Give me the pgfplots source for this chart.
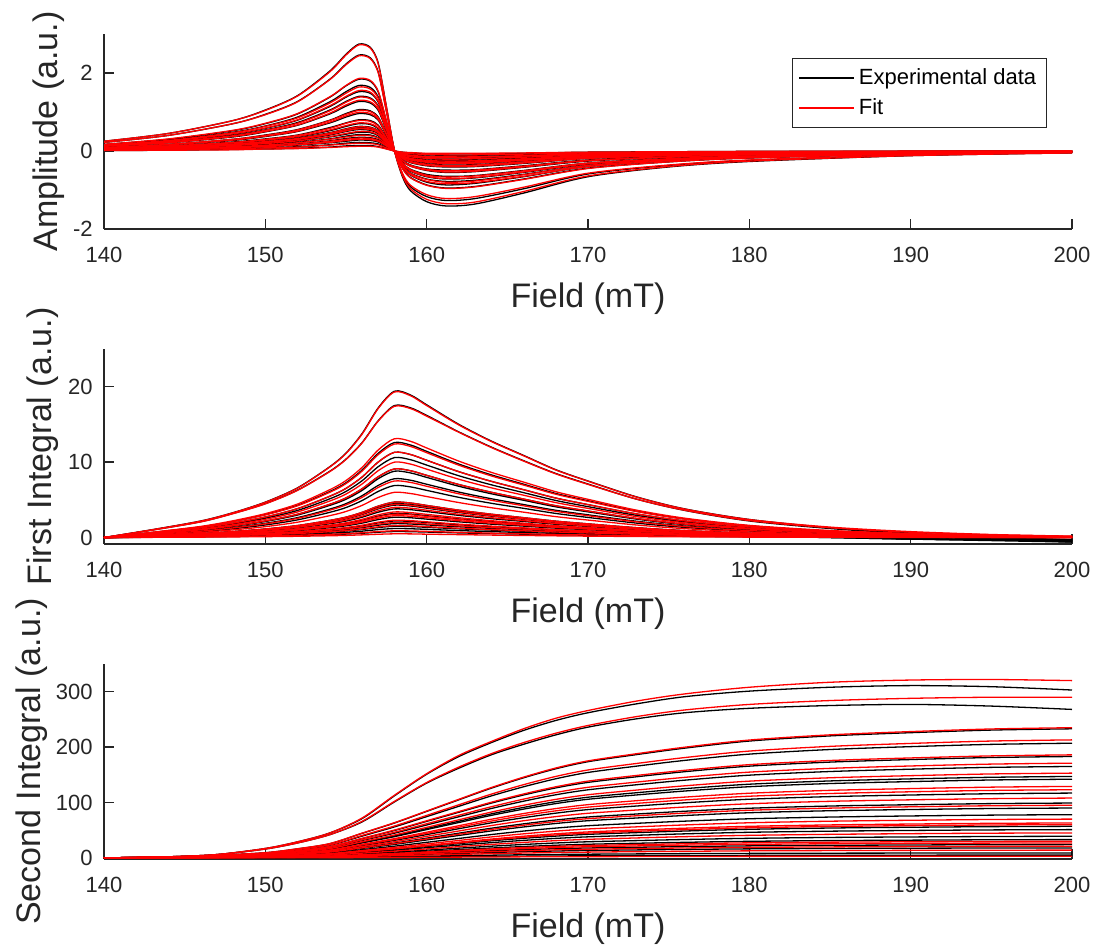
\documentclass[border=0pt]{standalone}
\usepackage{fontspec}
\setmainfont{Liberation Sans}
\usepackage{pgfplots}
\usepackage{pgfplotstable}
\pgfplotsset{compat=1.18}
\definecolor{axgray}{rgb}{0.15,0.15,0.15}

% ---------- Panel 1: derivative spectra (one row per curve) ----------
\pgfplotstableread{
name 140 144 148 150 152 154 155 155.8 156.5 157 157.5 158 158.5 159 160 161.2 163 166 170 175 180 190 200
b1 0.25 0.45 0.78 1.05 1.42 2.05 2.48 2.74 2.66 2.25 1.15 0.02 -0.66 -1.02 -1.30 -1.41 -1.36 -1.08 -0.66 -0.41 -0.27 -0.12 -0.05
r1 0.25 0.45 0.78 1.04 1.41 2.03 2.46 2.72 2.64 2.23 1.14 0.02 -0.63 -0.97 -1.24 -1.35 -1.31 -1.04 -0.64 -0.40 -0.26 -0.12 -0.05
b2 0.22 0.40 0.70 0.94 1.27 1.84 2.23 2.46 2.39 2.02 1.03 0.02 -0.59 -0.92 -1.17 -1.27 -1.22 -0.97 -0.59 -0.37 -0.24 -0.11 -0.04
r2 0.22 0.40 0.70 0.93 1.26 1.83 2.21 2.44 2.37 2.00 1.02 0.02 -0.57 -0.88 -1.12 -1.22 -1.17 -0.93 -0.57 -0.36 -0.23 -0.10 -0.04
b3 0.17 0.30 0.52 0.70 0.95 1.38 1.67 1.84 1.79 1.51 0.77 0.01 -0.44 -0.68 -0.87 -0.95 -0.91 -0.72 -0.44 -0.28 -0.18 -0.08 -0.03
r3 0.17 0.31 0.53 0.71 0.96 1.39 1.68 1.86 1.81 1.53 0.78 0.01 -0.45 -0.69 -0.88 -0.96 -0.92 -0.73 -0.45 -0.28 -0.18 -0.08 -0.03
b4 0.15 0.28 0.48 0.64 0.87 1.26 1.52 1.68 1.63 1.38 0.71 0.01 -0.40 -0.62 -0.80 -0.87 -0.83 -0.66 -0.40 -0.25 -0.17 -0.07 -0.03
r4 0.15 0.27 0.47 0.63 0.85 1.23 1.48 1.64 1.59 1.35 0.69 0.01 -0.40 -0.61 -0.78 -0.84 -0.81 -0.65 -0.40 -0.25 -0.16 -0.07 -0.03
b5 0.14 0.25 0.43 0.58 0.79 1.14 1.38 1.52 1.48 1.25 0.64 0.01 -0.37 -0.57 -0.72 -0.78 -0.75 -0.60 -0.37 -0.23 -0.15 -0.07 -0.03
r5 0.14 0.25 0.44 0.59 0.80 1.16 1.40 1.55 1.51 1.27 0.65 0.01 -0.37 -0.58 -0.73 -0.80 -0.77 -0.61 -0.37 -0.23 -0.15 -0.07 -0.03
b6 0.13 0.23 0.40 0.54 0.73 1.05 1.27 1.40 1.36 1.15 0.59 0.01 -0.34 -0.52 -0.66 -0.72 -0.69 -0.55 -0.34 -0.21 -0.14 -0.06 -0.03
r6 0.13 0.23 0.39 0.53 0.71 1.03 1.25 1.38 1.34 1.13 0.58 0.01 -0.33 -0.51 -0.65 -0.71 -0.68 -0.54 -0.33 -0.21 -0.14 -0.06 -0.02
b7 0.12 0.21 0.36 0.49 0.66 0.95 1.15 1.27 1.23 1.04 0.53 0.01 -0.31 -0.47 -0.60 -0.65 -0.63 -0.50 -0.31 -0.19 -0.13 -0.06 -0.02
r7 0.12 0.21 0.37 0.50 0.67 0.97 1.18 1.30 1.26 1.07 0.55 0.01 -0.31 -0.48 -0.62 -0.67 -0.64 -0.51 -0.31 -0.20 -0.13 -0.06 -0.02
b8 0.10 0.17 0.30 0.41 0.55 0.79 0.96 1.06 1.03 0.87 0.45 0.01 -0.26 -0.39 -0.50 -0.55 -0.53 -0.42 -0.26 -0.16 -0.10 -0.05 -0.02
r8 0.09 0.17 0.30 0.40 0.54 0.78 0.94 1.04 1.01 0.85 0.44 0.01 -0.25 -0.39 -0.49 -0.54 -0.52 -0.41 -0.25 -0.16 -0.10 -0.05 -0.02
b9 0.09 0.16 0.27 0.37 0.50 0.72 0.87 0.96 0.93 0.79 0.40 0.01 -0.23 -0.36 -0.46 -0.49 -0.48 -0.38 -0.23 -0.14 -0.10 -0.04 -0.02
r9 0.09 0.16 0.28 0.38 0.51 0.74 0.90 0.99 0.96 0.81 0.42 0.01 -0.24 -0.37 -0.47 -0.51 -0.49 -0.39 -0.24 -0.15 -0.10 -0.04 -0.02
b10 0.07 0.13 0.23 0.31 0.41 0.60 0.72 0.80 0.78 0.66 0.34 0.01 -0.19 -0.30 -0.38 -0.41 -0.40 -0.32 -0.19 -0.12 -0.08 -0.04 -0.01
r10 0.07 0.13 0.22 0.30 0.40 0.58 0.71 0.78 0.76 0.64 0.33 0.01 -0.19 -0.29 -0.37 -0.40 -0.39 -0.31 -0.19 -0.12 -0.08 -0.03 -0.01
b11 0.06 0.10 0.18 0.24 0.33 0.47 0.57 0.63 0.61 0.52 0.26 0.00 -0.15 -0.23 -0.30 -0.32 -0.31 -0.25 -0.15 -0.09 -0.06 -0.03 -0.01
r11 0.06 0.10 0.18 0.24 0.32 0.46 0.56 0.62 0.60 0.51 0.26 0.00 -0.15 -0.23 -0.29 -0.32 -0.31 -0.24 -0.15 -0.09 -0.06 -0.03 -0.01
b12 0.05 0.09 0.16 0.21 0.28 0.41 0.50 0.55 0.53 0.45 0.23 0.00 -0.13 -0.20 -0.26 -0.28 -0.27 -0.22 -0.13 -0.08 -0.05 -0.02 -0.01
r12 0.05 0.09 0.16 0.22 0.30 0.43 0.52 0.57 0.55 0.47 0.24 0.00 -0.14 -0.21 -0.27 -0.29 -0.28 -0.22 -0.14 -0.09 -0.06 -0.03 -0.01
b13 0.04 0.07 0.12 0.16 0.22 0.31 0.38 0.42 0.41 0.34 0.18 0.00 -0.10 -0.16 -0.20 -0.22 -0.21 -0.17 -0.10 -0.06 -0.04 -0.02 -0.01
r13 0.04 0.07 0.11 0.15 0.21 0.30 0.36 0.40 0.39 0.33 0.17 0.00 -0.10 -0.15 -0.19 -0.21 -0.20 -0.16 -0.10 -0.06 -0.04 -0.02 -0.01
b14 0.03 0.05 0.08 0.11 0.15 0.21 0.25 0.28 0.27 0.23 0.12 0.00 -0.07 -0.10 -0.13 -0.14 -0.14 -0.11 -0.07 -0.04 -0.03 -0.01 -0.01
r14 0.03 0.05 0.09 0.11 0.16 0.22 0.27 0.30 0.29 0.25 0.13 0.00 -0.07 -0.11 -0.14 -0.15 -0.15 -0.12 -0.07 -0.05 -0.03 -0.01 -0.01
b15 0.01 0.02 0.04 0.05 0.07 0.10 0.13 0.14 0.14 0.11 0.06 0.00 -0.03 -0.05 -0.07 -0.07 -0.07 -0.06 -0.03 -0.02 -0.01 -0.01 0.00
r15 0.01 0.02 0.03 0.05 0.06 0.09 0.11 0.12 0.12 0.10 0.05 0.00 -0.03 -0.04 -0.06 -0.06 -0.06 -0.05 -0.03 -0.02 -0.01 -0.01 0.00
b16 0.06 0.11 0.20 0.27 0.36 0.52 0.63 0.70 0.68 0.57 0.29 0.00 -0.17 -0.26 -0.33 -0.36 -0.35 -0.28 -0.17 -0.11 -0.07 -0.03 -0.01
r16 0.07 0.12 0.21 0.28 0.37 0.54 0.65 0.72 0.70 0.59 0.30 0.01 -0.17 -0.27 -0.34 -0.37 -0.36 -0.28 -0.17 -0.11 -0.07 -0.03 -0.01
b17 0.04 0.08 0.14 0.18 0.25 0.36 0.43 0.48 0.47 0.39 0.20 0.00 -0.12 -0.18 -0.23 -0.25 -0.24 -0.19 -0.12 -0.07 -0.05 -0.02 -0.01
r17 0.05 0.08 0.14 0.19 0.26 0.37 0.45 0.50 0.49 0.41 0.21 0.00 -0.12 -0.19 -0.24 -0.26 -0.25 -0.20 -0.12 -0.08 -0.05 -0.02 -0.01
b18 0.03 0.06 0.10 0.13 0.18 0.26 0.32 0.35 0.34 0.29 0.15 0.00 -0.08 -0.13 -0.17 -0.18 -0.17 -0.14 -0.08 -0.05 -0.03 -0.02 -0.01
r18 0.03 0.05 0.09 0.13 0.17 0.25 0.30 0.33 0.32 0.27 0.14 0.00 -0.08 -0.12 -0.16 -0.17 -0.16 -0.13 -0.08 -0.05 -0.03 -0.01 -0.01
b19 0.05 0.10 0.17 0.23 0.31 0.45 0.54 0.60 0.58 0.49 0.25 0.00 -0.14 -0.22 -0.28 -0.31 -0.30 -0.24 -0.14 -0.09 -0.06 -0.03 -0.01
r19 0.05 0.10 0.17 0.22 0.30 0.43 0.52 0.58 0.56 0.48 0.24 0.00 -0.14 -0.22 -0.27 -0.30 -0.29 -0.23 -0.14 -0.09 -0.06 -0.03 -0.01
b20 0.02 0.04 0.06 0.08 0.11 0.16 0.20 0.22 0.21 0.18 0.09 0.00 -0.05 -0.08 -0.10 -0.11 -0.11 -0.09 -0.05 -0.03 -0.02 -0.01 0.00
r20 0.02 0.03 0.06 0.08 0.10 0.15 0.18 0.20 0.19 0.16 0.08 0.00 -0.05 -0.07 -0.09 -0.10 -0.10 -0.08 -0.05 -0.03 -0.02 -0.01 0.00
}\rawA
\pgfplotstabletranspose[colnames from=name]\tabA\rawA

% ---------- Panel 2: first integral ----------
\pgfplotstableread{
name 140 143 146 148 150 152 154 155 156 157 158 159 160 162 164 166 168 170 173 176 180 185 190 195 200
b1 0 1.05 2.2 3.3 4.7 6.6 9.4 11.2 13.8 17.2 19.4 18.9 17.6 15.0 12.8 10.9 9.0 7.5 5.4 3.8 2.4 1.3 0.6 0.1 -0.3
r1 0 1.04 2.18 3.28 4.67 6.56 9.36 11.14 13.72 17.12 19.3 18.8 17.5 14.92 12.74 10.85 8.96 7.47 5.37 3.78 2.39 1.39 0.79 0.41 0.19
b2 0 1.0 2.1 3.2 4.5 6.3 8.8 10.4 12.6 15.5 17.5 17.2 16.2 14.0 12.0 10.2 8.5 7.1 5.1 3.6 2.2 1.2 0.5 0.0 -0.4
r2 0 0.99 2.08 3.17 4.47 6.26 8.75 10.35 12.55 15.45 17.4 17.1 16.1 13.95 11.95 10.15 8.45 7.05 5.1 3.62 2.25 1.3 0.72 0.37 0.17
b3 0 0.68 1.42 2.14 3.05 4.28 6.11 7.27 8.96 11.18 12.6 12.27 11.43 9.74 8.32 7.08 5.85 4.88 3.50 2.47 1.56 0.8 0.3 -0.1 -0.5
r3 0 0.71 1.48 2.23 3.17 4.45 6.35 7.56 9.31 11.62 13.1 12.76 11.88 10.13 8.65 7.36 6.08 5.07 3.64 2.57 1.62 0.94 0.54 0.28 0.13
b4 0 0.61 1.28 1.92 2.73 3.84 5.48 6.52 8.03 10.02 11.3 11.01 10.25 8.73 7.46 6.35 5.24 4.37 3.14 2.21 1.40 0.7 0.2 -0.2 -0.6
r4 0 0.67 1.40 2.11 3.00 4.22 6.01 7.15 8.82 11.0 12.4 12.08 11.25 9.59 8.18 6.97 5.75 4.80 3.45 2.43 1.54 0.89 0.51 0.26 0.12
b5 0 0.57 1.20 1.80 2.57 3.60 5.14 6.12 7.54 9.40 10.6 10.32 9.61 8.19 7.0 5.96 4.92 4.10 2.95 2.08 1.31 0.7 0.3 0.0 -0.3
r5 0 0.61 1.28 1.92 2.73 3.84 5.48 6.52 8.03 10.02 11.3 11.01 10.25 8.73 7.46 6.35 5.24 4.37 3.14 2.21 1.40 0.81 0.46 0.24 0.11
b6 0 0.49 1.03 1.55 2.20 3.09 4.41 5.25 6.47 8.07 9.1 8.86 8.25 7.03 6.01 5.11 4.22 3.52 2.53 1.78 1.13 0.6 0.2 -0.1 -0.4
r6 0 0.54 1.13 1.70 2.42 3.40 4.85 5.77 7.11 8.87 10.0 9.74 9.07 7.73 6.60 5.62 4.64 3.87 2.78 1.96 1.24 0.72 0.41 0.21 0.10
b7 0 0.48 0.99 1.50 2.13 2.99 4.27 5.08 6.26 7.81 8.8 8.57 7.98 6.80 5.81 4.95 4.08 3.41 2.45 1.72 1.09 0.63 0.36 0.18 0.09
r7 0 0.49 1.03 1.55 2.20 3.09 4.41 5.25 6.47 8.07 9.1 8.86 8.25 7.03 6.01 5.11 4.22 3.52 2.53 1.78 1.13 0.66 0.37 0.19 0.09
b8 0 0.42 0.88 1.33 1.89 2.65 3.78 4.50 5.55 6.92 7.8 7.60 7.07 6.03 5.15 4.38 3.62 3.02 2.17 1.53 0.97 0.5 0.1 -0.2 -0.5
r8 0 0.41 0.85 1.28 1.82 2.55 3.64 4.33 5.33 6.65 7.5 7.31 6.80 5.80 4.95 4.22 3.48 2.90 2.09 1.47 0.93 0.54 0.31 0.16 0.08
b9 0 0.37 0.78 1.17 1.67 2.35 3.35 3.98 4.91 6.12 6.9 6.72 6.26 5.33 4.55 3.88 3.20 2.67 1.92 1.35 0.86 0.5 0.28 0.14 0.07
r9 0 0.32 0.68 1.02 1.45 2.04 2.91 3.46 4.27 5.32 6.0 5.84 5.44 4.64 3.96 3.37 2.78 2.32 1.67 1.18 0.74 0.43 0.25 0.13 0.06
b10 0 0.25 0.53 0.80 1.14 1.60 2.28 2.71 3.34 4.17 4.7 4.58 4.26 3.63 3.10 2.64 2.18 1.82 1.31 0.92 0.58 0.2 -0.1 -0.3 -0.5
r10 0 0.25 0.53 0.80 1.14 1.60 2.28 2.71 3.34 4.17 4.7 4.58 4.26 3.63 3.10 2.64 2.18 1.82 1.31 0.92 0.58 0.34 0.19 0.10 0.05
b11 0 0.23 0.49 0.73 1.04 1.46 2.09 2.48 3.06 3.81 4.3 4.19 3.90 3.32 2.84 2.42 2.0 1.66 1.20 0.84 0.53 0.31 0.18 0.09 0.04
r11 0 0.22 0.45 0.68 0.97 1.36 1.94 2.31 2.84 3.55 4.0 3.90 3.63 3.09 2.64 2.25 1.86 1.55 1.11 0.78 0.50 0.29 0.16 0.08 0.04
b12 0 0.21 0.43 0.65 0.92 1.29 1.84 2.19 2.70 3.37 3.8 3.70 3.45 2.94 2.51 2.14 1.76 1.47 1.06 0.74 0.47 0.1 -0.2 -0.4 -0.6
r12 0 0.18 0.38 0.58 0.82 1.16 1.65 1.96 2.42 3.02 3.4 3.31 3.08 2.63 2.24 1.91 1.58 1.32 0.95 0.67 0.42 0.24 0.14 0.07 0.03
b13 0 0.15 0.31 0.46 0.65 0.92 1.31 1.56 1.92 2.39 2.7 2.63 2.45 2.09 1.78 1.52 1.25 1.04 0.75 0.53 0.33 0.19 0.11 0.06 0.03
r13 0 0.16 0.33 0.49 0.70 0.99 1.41 1.67 2.06 2.57 2.9 2.82 2.63 2.24 1.91 1.63 1.35 1.12 0.81 0.57 0.36 0.21 0.12 0.06 0.03
b14 0 0.10 0.21 0.31 0.45 0.63 0.90 1.07 1.32 1.64 1.85 1.80 1.68 1.43 1.22 1.04 0.86 0.72 0.51 0.36 0.23 0.0 -0.2 -0.3 -0.4
r14 0 0.12 0.26 0.39 0.56 0.78 1.12 1.33 1.64 2.04 2.3 2.24 2.09 1.78 1.52 1.29 1.07 0.89 0.64 0.45 0.29 0.17 0.09 0.05 0.02
b15 0 0.06 0.14 0.20 0.29 0.41 0.58 0.69 0.85 1.06 1.2 1.17 1.09 0.93 0.79 0.67 0.56 0.46 0.33 0.24 0.15 0.09 0.05 0.03 0.01
r15 0 0.03 0.06 0.09 0.12 0.17 0.24 0.29 0.36 0.44 0.5 0.49 0.45 0.39 0.33 0.28 0.23 0.19 0.14 0.10 0.06 0.04 0.02 0.01 0.01
b16 0 0.17 0.36 0.54 0.77 1.09 1.55 1.85 2.28 2.84 3.2 3.12 2.90 2.47 2.11 1.80 1.48 1.24 0.89 0.63 0.40 0.1 -0.1 -0.3 -0.4
r16 0 0.17 0.35 0.53 0.75 1.05 1.50 1.79 2.20 2.75 3.1 3.02 2.81 2.40 2.05 1.74 1.44 1.20 0.86 0.61 0.38 0.22 0.13 0.07 0.03
b17 0 0.12 0.25 0.37 0.53 0.75 1.07 1.27 1.56 1.95 2.2 2.14 2.0 1.70 1.45 1.24 1.02 0.85 0.61 0.43 0.27 0.16 0.09 0.05 0.02
r17 0 0.11 0.23 0.34 0.48 0.68 0.97 1.15 1.42 1.77 2.0 1.95 1.81 1.55 1.32 1.12 0.93 0.77 0.56 0.39 0.25 0.14 0.08 0.04 0.02
b18 0 0.08 0.17 0.26 0.36 0.51 0.73 0.87 1.07 1.33 1.5 1.46 1.36 1.16 0.99 0.84 0.70 0.58 0.42 0.29 0.19 0.0 -0.2 -0.3 -0.5
r18 0 0.09 0.18 0.27 0.39 0.54 0.78 0.92 1.14 1.42 1.6 1.56 1.45 1.24 1.06 0.90 0.74 0.62 0.44 0.31 0.20 0.12 0.07 0.03 0.02
b19 0 0.24 0.51 0.77 1.09 1.53 2.18 2.60 3.20 3.99 4.5 4.38 4.08 3.48 2.97 2.53 2.09 1.74 1.25 0.88 0.56 0.32 0.18 0.09 0.05
r19 0 0.24 0.50 0.75 1.06 1.50 2.13 2.54 3.13 3.90 4.4 4.29 3.99 3.40 2.90 2.47 2.04 1.70 1.22 0.86 0.55 0.32 0.18 0.09 0.04
b20 0 0.04 0.09 0.14 0.19 0.27 0.39 0.46 0.57 0.71 0.8 0.78 0.73 0.62 0.53 0.45 0.37 0.31 0.22 0.16 0.10 0.06 0.03 0.02 0.01
r20 0 0.05 0.10 0.15 0.22 0.31 0.44 0.52 0.64 0.80 0.9 0.88 0.82 0.70 0.59 0.51 0.42 0.35 0.25 0.18 0.11 0.06 0.04 0.02 0.01
}\rawB
\pgfplotstabletranspose[colnames from=name]\tabB\rawB

% ---------- Panel 3: second integral ----------
\pgfplotstableread{
name 140 144 147 150 152 154 156 158 160 162 164 166 168 170 173 176 180 185 190 195 200
b1 0 2 6 17 29 45 71 112 151 183 208 230 248 262 278 291 301 308 311 309 303
r1 0 2 6 17 29 45 72 113 152 185 210 233 252 266 283 296 308 317 321 322 320
b2 0 2 6 16 27 42 65 101 135 162 186 205 222 236 251 262 270 275 277 274 268
r2 0 2 6 16 27 42 66 102 136 164 188 208 225 239 255 267 277 284 288 290 290
b3 0 1.9 4.7 9.3 16.3 25.6 44.3 62.9 83.9 104.9 125.8 144.5 160.8 173.6 186.4 198.1 210.9 220.2 226.0 230.7 233
r3 0 1.9 4.7 9.4 16.5 25.9 44.7 63.5 84.6 105.8 126.9 145.7 162.2 175.1 188 199.8 212.7 222.1 228 232.7 235
b4 0 1.7 4.1 8.3 14.5 22.8 39.3 55.9 74.5 93.2 111.8 128.3 142.8 154.2 165.6 176 187.3 195.6 200.8 204.9 207
r4 0 1.7 4.3 8.5 14.9 23.4 40.5 57.5 76.7 95.9 115 132.1 147 158.7 170.4 181.1 192.8 201.3 206.6 210.9 213
b5 0 1.5 3.7 7.3 12.8 20.1 34.8 49.4 65.9 82.4 98.8 113.5 126.3 136.3 146.4 155.6 165.6 172.9 177.5 181.2 183
r5 0 1.5 3.7 7.4 13 20.5 35.3 50.2 67 83.7 100.4 115.3 128.3 138.6 148.8 158.1 168.3 175.8 180.4 184.1 186
b6 0 1.3 3.3 6.6 11.6 18.2 31.4 44.6 59.4 74.3 89.1 102.3 113.9 122.9 132 140.3 149.3 155.9 160.1 163.4 165
r6 0 1.4 3.4 6.8 12 18.8 32.5 46.2 61.6 77 92.3 106 118 127.4 136.8 145.4 154.8 161.6 165.9 169.3 171
b7 0 1.2 2.9 5.9 10.3 16.2 27.9 39.7 52.9 66.2 79.4 91.1 101.4 109.5 117.6 125 133 138.9 142.6 145.5 147
r7 0 1.2 3.1 6.1 10.7 16.8 29.1 41.3 55.1 68.9 82.6 94.9 105.6 114 122.4 130.1 138.5 144.6 148.4 151.5 153
b8 0 1.1 2.8 5.7 9.9 15.6 27 38.3 51.1 63.9 76.7 88 98 105.8 113.6 120.7 128.5 134.2 137.7 140.6 142
r8 0 1 2.6 5.2 9 14.2 24.5 34.8 46.4 58.1 69.7 80 89 96.1 103.2 109.7 116.7 121.9 125.1 127.7 129
b9 0 0.9 2.3 4.7 8.2 12.9 22.2 31.6 42.1 52.7 63.2 72.5 80.7 87.2 93.6 99.5 105.9 110.6 113.5 115.8 117
r9 0 1 2.5 4.9 8.6 13.5 23.4 33.2 44.3 55.4 66.4 76.3 84.9 91.6 98.4 104.6 111.3 116.2 119.3 121.8 123
b10 0 0.8 2 4 6.9 10.9 18.8 26.7 35.6 44.6 53.5 61.4 68.3 73.8 79.2 84.2 89.6 93.6 96 98 99
r10 0 0.9 2.2 4.3 7.6 11.9 20.5 29.2 38.9 48.6 58.3 67 74.5 80.5 86.4 91.8 97.7 102.1 104.8 106.9 108
b11 0 0.6 1.6 3.1 5.5 8.6 14.8 21.1 28.1 35.1 42.1 48.4 53.8 58.1 62.4 66.3 70.6 73.7 75.7 77.2 78
r11 0 0.5 1.3 2.5 4.4 6.9 12 17 22.7 28.4 34 39.1 43.5 46.9 50.4 53.6 57 59.5 61.1 62.4 63
b12 0 0.4 1 2 3.6 5.6 9.7 13.8 18.4 23 27.5 31.6 35.2 38 40.8 43.4 46.2 48.2 49.5 50.5 51
r12 0 0.6 1.4 2.8 4.9 7.7 13.3 18.9 25.2 31.5 37.8 43.4 48.3 52.2 56 59.5 63.4 66.2 67.9 69.3 70
b13 0 0.3 0.8 1.6 2.7 4.3 7.4 10.5 14 17.6 21.1 24.2 26.9 29.1 31.2 33.2 35.3 36.9 37.8 38.6 39
r13 0 0.4 0.9 1.8 3.2 5 8.6 12.2 16.2 20.3 24.3 27.9 31.1 33.5 36 38.3 40.7 42.5 43.7 44.6 45
b14 0 0.1 0.4 0.7 1.3 2 3.4 4.9 6.5 8.1 9.7 11.2 12.4 13.4 14.4 15.3 16.3 17 17.5 17.8 18
r14 0 0.2 0.5 1.1 1.9 3 5.1 7.3 9.7 12.2 14.6 16.7 18.6 20.1 21.6 23 24.4 25.5 26.2 26.7 27
b15 0 0.1 0.2 0.4 0.6 1 1.7 2.4 3.2 4.1 4.9 5.6 6.2 6.7 7.2 7.7 8.1 8.5 8.7 8.9 9
r15 0 0.1 0.3 0.6 1 1.5 2.7 3.8 5 6.3 7.6 8.7 9.7 10.4 11.2 11.9 12.7 13.2 13.6 13.9 14
b16 0 0.5 1.1 2.3 4 6.3 10.8 15.4 20.5 25.7 30.8 35.3 39.3 42.5 45.6 48.5 51.6 53.9 55.3 56.4 57
r16 0 0.5 1.2 2.4 4.2 6.6 11.4 16.2 21.6 27 32.4 37.2 41.4 44.7 48 51 54.3 56.7 58.2 59.4 60
b17 0 0.3 0.7 1.3 2.3 3.6 6.3 8.9 11.9 14.9 17.8 20.5 22.8 24.6 26.4 28.1 29.9 31.2 32 32.7 33
r17 0 0.2 0.6 1.2 2.1 3.3 5.7 8.1 10.8 13.5 16.2 18.6 20.7 22.4 24 25.5 27.2 28.4 29.1 29.7 30
b18 0 0.2 0.5 1 1.7 2.6 4.6 6.5 8.6 10.8 13 14.9 16.6 17.9 19.2 20.4 21.7 22.7 23.3 23.8 24
r18 0 0.2 0.4 0.8 1.5 2.3 4 5.7 7.6 9.5 11.3 13 14.5 15.6 16.8 17.9 19 19.8 20.4 20.8 21
b19 0 0.7 1.8 3.6 6.3 9.9 17.1 24.3 32.4 40.5 48.6 55.8 62.1 67.1 72 76.5 81.5 85.1 87.3 89.1 90
r19 0 0.8 1.9 3.8 6.7 10.5 18.1 25.7 34.2 42.8 51.3 58.9 65.6 70.8 76 80.8 86 89.8 92.2 94.1 95
b20 0 0 0.1 0.2 0.4 0.6 1 1.4 1.8 2.3 2.7 3.1 3.5 3.7 4 4.3 4.5 4.7 4.9 5 5
r20 0 0 0.1 0.1 0.2 0.3 0.6 0.8 1.1 1.4 1.6 1.9 2.1 2.2 2.4 2.6 2.7 2.8 2.9 3 3
}\rawC
\pgfplotstabletranspose[colnames from=name]\tabC\rawC

\pgfplotsset{
  panel/.style={
    scale only axis, width=484pt, height=97.5pt,
    anchor=south west,
    xmin=140, xmax=200, xtick={140,150,160,170,180,190,200},
    axis x line*=bottom, axis y line*=left,
    axis line style={line width=0.65pt, color=axgray},
    tick align=inside, major tick length=5pt,
    every tick/.style={line width=0.65pt, color=axgray},
    tick label style={font=\fontsize{11}{13}\selectfont, color=axgray},
    xticklabel style={inner sep=0pt, anchor=north, yshift=-9pt},
    yticklabel style={inner sep=0pt, anchor=east, xshift=-5.5pt},
    /pgf/number format/assume math mode=true,
    scaled ticks=false,
    label style={font=\fontsize{17}{20}\selectfont, color=axgray},
    xlabel={Field (mT)},
    xlabel style={at={(axis description cs:0.5,0)}, anchor=north, inner sep=0pt, yshift=-26.5pt},
  },
  bk/.style={black, line width=0.65pt, smooth, forget plot},
  rd/.style={red, line width=0.65pt, smooth, forget plot},
}

\begin{document}
\begin{tikzpicture}
\path[use as bounding box] (0,0) rectangle (548pt,472.5pt);

% ---------------- Panel 1 ----------------
\begin{axis}[panel, at={(52pt,358pt)},
  ymin=-2, ymax=3, ytick={-2,0,2},
  ylabel={Amplitude (a.u.)},
  ylabel style={at={(axis description cs:-0.0568,0.5)}, anchor=center},
  legend cell align=left,
  legend style={at={(0.974,0.877)}, anchor=north east, draw=axgray, line width=0.6pt,
    fill=white, font=\fontsize{11}{13}\selectfont, inner xsep=3pt, inner ysep=3pt, row sep=1.5pt},
  legend image code/.code={\draw[#1, line width=0.65pt] (0pt,0pt) -- (27.5pt,0pt);},
]
\pgfplotsinvokeforeach{1,...,20}{
  \addplot[bk] table[x=colnames, y=b#1] {\tabA};
}
\pgfplotsinvokeforeach{1,...,20}{
  \addplot[rd] table[x=colnames, y=r#1] {\tabA};
}
\addlegendimage{black}
\addlegendentry{Experimental data}
\addlegendimage{red}
\addlegendentry{Fit}
\end{axis}

% ---------------- Panel 2 ----------------
\begin{axis}[panel, at={(52pt,200.5pt)},
  ymin=-0.85, ymax=25, ytick={0,10,20},
  ylabel={First Integral (a.u.)},
  ylabel style={at={(axis description cs:-0.063,0.5)}, anchor=center},
]
\pgfplotsinvokeforeach{1,...,20}{
  \addplot[bk] table[x=colnames, y=b#1] {\tabB};
}
\pgfplotsinvokeforeach{1,...,20}{
  \addplot[rd] table[x=colnames, y=r#1] {\tabB};
}
\end{axis}

% ---------------- Panel 3 ----------------
\begin{axis}[panel, at={(52pt,43pt)},
  ymin=-2, ymax=350, ytick={0,100,200,300},
  ylabel={Second Integral (a.u.)},
  ylabel style={at={(axis description cs:-0.0744,0.5)}, anchor=center},
]
\pgfplotsinvokeforeach{1,...,20}{
  \addplot[bk] table[x=colnames, y=b#1] {\tabC};
}
\pgfplotsinvokeforeach{1,...,20}{
  \addplot[rd] table[x=colnames, y=r#1] {\tabC};
}
\end{axis}
\end{tikzpicture}
\end{document}
